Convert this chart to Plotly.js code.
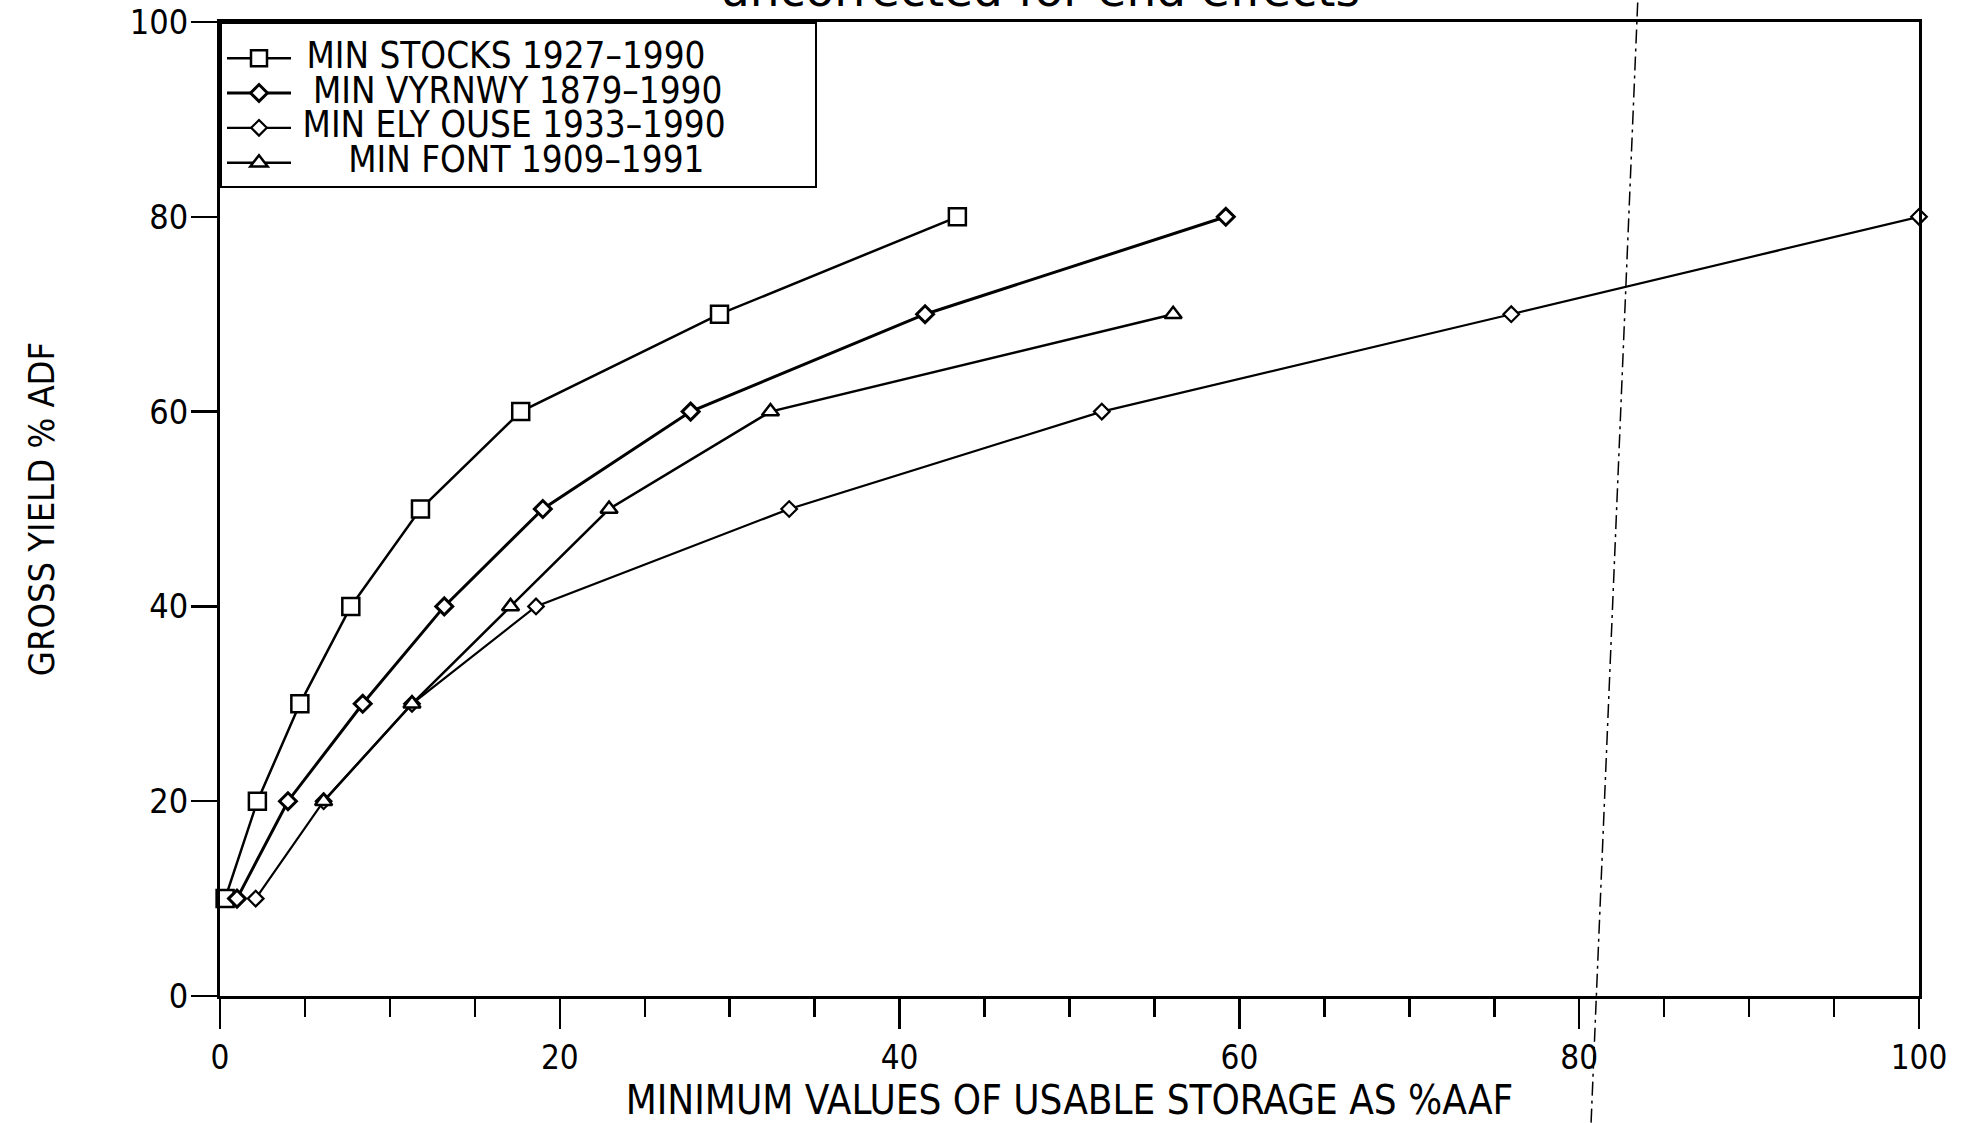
<!DOCTYPE html>
<html>
<head>
<meta charset="utf-8">
<script src="https://cdn.plot.ly/plotly-3.0.1.min.js"></script>
<style>
  html, body { margin: 0; padding: 0; background: #ffffff; }
  #chart { width: 1964px; height: 1123px; }
</style>
</head>
<body>
<div id="chart"></div>
<script>
// Gross yield levels (% ADF) at which minimum usable storage was computed
const yieldLevels = [10, 20, 30, 40, 50, 60, 70, 80];

// Minimum usable storage (% AAF) for each catchment record
const stocksStorage  = [0.3, 2.2, 4.7, 7.7, 11.8, 17.7, 29.4, 43.4];
const vyrnwyStorage  = [1.0, 4.0, 8.4, 13.2, 19.0, 27.7, 41.5, 59.2];
const elyOuseStorage = [2.1, 6.1, 11.3, 18.6, 33.5, 51.9, 76.0, 100.0];
const fontYield      = [20, 30, 40, 50, 60, 70];
const fontStorage    = [6.1, 11.3, 17.1, 22.9, 32.4, 56.1];

const seriesNames = [
  '\u00a0MIN STOCKS 1927\u20131990',
  '\u00a0\u202fMIN VYRNWY 1879\u20131990',
  '\u202fMIN ELY OUSE 1933\u20131990',
  '\u00a0\u00a0\u00a0\u00a0\u00a0MIN FONT 1909\u20131991'
];

const xTickVals = [0, 20, 40, 60, 80, 100];
const yTickVals = [0, 20, 40, 60, 80, 100];

// Hand-drawn guide line across the sheet: storage value at its lower and upper ends
const guideLineX = [80.7, 83.45];

const FONT = '"DejaVu Sans Condensed", "Liberation Sans Narrow", "Liberation Sans", sans-serif';
const PAD = '\u00a0'.repeat(8);

function series(name, x, y, symbol, size, width) {
  return {
    type: 'scatter',
    mode: 'lines+markers',
    name: '<span style="font-size:36.5px">' + name + PAD + '</span>',
    x: x,
    y: y,
    cliponaxis: false,
    line: { color: '#000000', width: width },
    marker: {
      symbol: symbol,
      size: size,
      color: '#ffffff',
      line: { color: '#000000', width: width }
    }
  };
}

const traces = [
  series(seriesNames[0], stocksStorage,  yieldLevels, 'square',      17, 2.5),
  series(seriesNames[1], vyrnwyStorage,  yieldLevels, 'diamond',     13, 3),
  series(seriesNames[2], elyOuseStorage, yieldLevels, 'diamond',     12, 2.2),
  series(seriesNames[3], fontStorage,    fontYield,   'triangle-up', 15, 2.5)
];

const layout = {
  width: 1964,
  height: 1123,
  paper_bgcolor: '#ffffff',
  plot_bgcolor: '#ffffff',
  margin: { l: 220, r: 45, t: 22, b: 127 },
  font: { family: FONT, color: '#000000', size: 32 },
  title: {
    text: 'uncorrected for end effects',
    font: { family: '"DejaVu Sans", sans-serif', size: 47, color: '#000000' },
    x: 1040 / 1964,
    xanchor: 'center',
    y: 1 - 6 / 1123,
    yanchor: 'bottom'
  },
  showlegend: true,
  legend: {
    x: 0,
    y: 1,
    xanchor: 'left',
    yanchor: 'top',
    bgcolor: '#ffffff',
    bordercolor: '#000000',
    borderwidth: 2,
    font: { family: FONT, size: 24.5, color: '#000000' },
    itemwidth: 64,
    title: { text: '\u00a0', font: { size: 9 } }
  },
  xaxis: {
    range: [0, 100],
    tickmode: 'array',
    tickvals: xTickVals,
    ticks: 'outside',
    ticklen: 30,
    tickwidth: 2.5,
    tickcolor: '#000000',
    tickfont: { family: FONT, size: 33 },
    minor: { tickmode: 'linear', tick0: 0, dtick: 5, ticks: 'outside', ticklen: 18, tickwidth: 2.5, tickcolor: '#000000', showgrid: false },
    showline: true,
    linewidth: 3,
    linecolor: '#000000',
    mirror: true,
    showgrid: false,
    zeroline: false,
    automargin: false,
    title: { text: 'MINIMUM VALUES OF USABLE STORAGE AS %AAF', font: { family: FONT, size: 40 }, standoff: 15 }
  },
  yaxis: {
    range: [0, 100],
    tickmode: 'array',
    tickvals: yTickVals,
    ticks: 'outside',
    ticklen: 26,
    tickwidth: 2.5,
    tickcolor: '#000000',
    tickfont: { family: FONT, size: 34 },
    ticklabelstandoff: -4,
    showline: true,
    linewidth: 3,
    linecolor: '#000000',
    mirror: true,
    showgrid: false,
    zeroline: false,
    automargin: false,
    title: { text: 'GROSS YIELD % ADF', font: { family: FONT, size: 36 }, standoff: 65 }
  },
  shapes: [
    {
      type: 'line',
      xref: 'x',
      yref: 'paper',
      x0: guideLineX[0], y0: -0.13,
      x1: guideLineX[1], y1: 1.023,
      line: { color: '#000000', width: 1.5, dash: '14px,5px,3px,5px' },
      layer: 'above'
    }
  ]
};

Plotly.newPlot('chart', traces, layout, { displayModeBar: false, staticPlot: true });
</script>
</body>
</html>
